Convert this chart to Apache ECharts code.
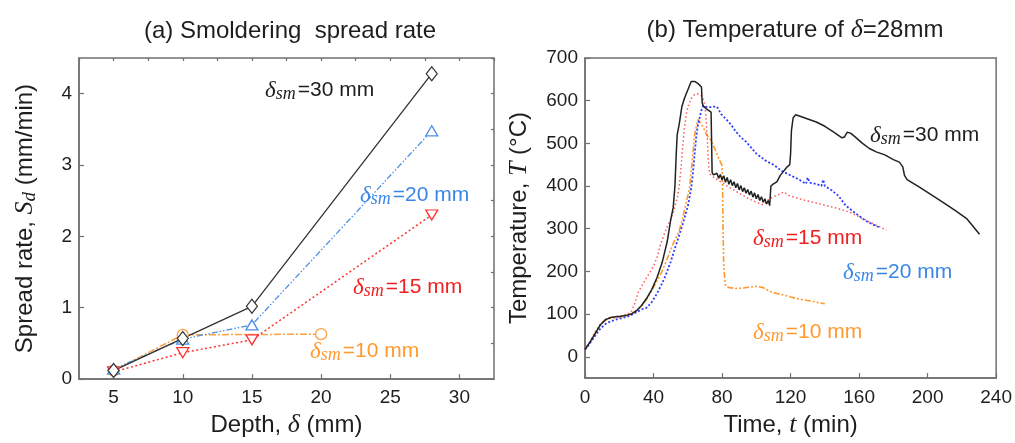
<!DOCTYPE html>
<html>
<head>
<meta charset="utf-8">
<script src="https://cdn.jsdelivr.net/npm/echarts@6/dist/echarts.min.js"></script>
<style>html,body{margin:0;padding:0;background:#fff;}#c{width:1015px;height:443px;}</style>
</head>
<body>
<div id="c"></div>
<script>
// ---------- (a) spread rate ----------
const depth30 = [5, 10, 15, 28];
const rate30  = [0.12, 0.57, 1.02, 4.28];
const depth20 = [5, 10, 15, 28];
const rate20  = [0.14, 0.56, 0.76, 3.48];
const depth15 = [5, 10, 15, 28];
const rate15  = [0.10, 0.37, 0.55, 2.30];
const depth10 = [5, 10, 20];
const rate10  = [0.12, 0.62, 0.63];
const leftXTicks = [5, 10, 15, 20, 25, 30];
const leftYTicks = [0, 1, 2, 3, 4];

// ---------- (b) temperature ----------
const time30 = [0,3,6,9,12,15,18,21,24,27,30,33,36,39,42,45,48,50,51.5,52.5,53.2,53.8,55,56.5,58,60,62,64,66,68,68.4,69,71,73.6,74.2,
  75,76,77,78,79,80,81,82,83,84,85,86,87,88,89,90,91,92,93,94,95,96,97,98,99,100,101,102,103,104,105,106,107,107.8,
  108,108.5,110,112,114,116,118,119.5,120,120.5,121.5,123,128,135,140,145,150,151.5,153,155,158,162,166,170,175,180,183.5,185.5,186.5,188,195,202,209,216,223,230.3];
const temp30 = [17,35,55,75,87,92,94,95,97,100,108,120,137,158,185,220,270,320,350,400,470,520,545,585,605,625,645,645,640,632,595,588,580,573,432,
  426,422,430,418,427,414,424,409,420,404,415,401,410,396,406,391,401,387,396,383,392,379,388,374,384,370,380,366,375,362,370,358,366,354,
  358,400,405,410,425,435,445,450,475,530,560,567,560,550,540,527,513,515,526,524,514,500,488,480,473,462,456,445,425,415,398,380,362,343,323,287];

const time15 = [0,3,6,9,12,15,18,21,24,27,29,31,34,37,40,42,44,46,48,50,52,54,55,56,57,58,59,60,62,64,66,68,69.5,70.5,71.5,72.3,73,76,80,85,90,95,100,104,107,110,113,116,119,125,133,140,148,155,160,165,170,176];
const temp15 = [17,37,58,77,88,92,94,96,98,105,125,150,172,192,212,232,262,285,305,322,345,375,400,440,490,535,565,585,605,615,616,611,600,570,500,440,428,418,408,395,383,372,362,356,368,375,380,386,378,370,362,355,347,338,328,318,308,297];

const time20 = [0,3,6,9,12,15,18,21,24,27,30,33,36,39,42,45,47,50,52,54.5,57,60,62,63,64,65,66,67,68,69,70,72,74,77,79.6,82,85,88,91,94,97,100,103,106,110,115,120,125,129,130,131,135,138,139,140,144,148,152,156,160,164,168,172];
const temp20 = [17,32,50,66,77,83,87,90,93,98,104,111,115,128,148,172,190,222,248,279,310,352,395,430,475,518,545,562,578,588,588,584,586,586,568,558,545,528,514,504,490,476,467,458,450,435,425,415,405,420,408,405,400,415,400,390,377,355,342,330,318,310,303];

const time10 = [0,3,6,9,12,15,18,21,24,27,30,33,36,39,42,45,48,52,55,57,59,61,62.5,64,65,66,67,69,71,73.8,76,78.6,80,80.3,80.6,81,82,84,88,92,96,100,104,108,112,116,120,125,130,135,140];
const temp10 = [17,36,56,75,86,90,92,94,96,100,107,118,135,155,178,200,230,270,295,325,360,395,455,520,540,556,553,538,520,505,485,460,448,400,300,210,167,162,160,161,163,165,162,153,148,145,140,135,132,128,124];
const rightXTicks = [0, 40, 80, 120, 160, 200, 240];
const rightYTicks = [0, 100, 200, 300, 400, 500, 600, 700];

const zip = (a, b) => a.map((v, i) => [v, b[i]]);

const FS = 'Liberation Sans, Arial, sans-serif';
const SERIF = 'Liberation Serif, DejaVu Serif, serif';
const AX = '#707070';
const TXT = '#1e1e1e';

const C30 = '#333333', C20L = '#4a8fe6', C15L = '#ff3030', C10L = '#ffa040';
const C20R = '#2b3cff', C15R = '#ff5a5a', C10R = '#ff9a2e';
const LBL20 = '#3a86e6', LBL15 = '#f02020', LBL10 = '#ff9a30';

function tag(color, num) {
  return {
    text: '{d|δ}{s|sm}{n|=' + num + ' mm}',
    rich: {
      d: { fontFamily: SERIF, fontStyle: 'italic', fontSize: 23, lineHeight: 26, fill: color },
      s: { fontFamily: SERIF, fontStyle: 'italic', fontSize: 18, lineHeight: 10, verticalAlign: 'bottom', padding: [0, 2, 0, 0], fill: color },
      n: { fontFamily: FS, fontSize: 21, lineHeight: 26, fill: color }
    }
  };
}

function majorAxis(extra) {
  return Object.assign({
    type: 'value',
    axisLine: { show: true, onZero: false, lineStyle: { color: AX, width: 1.5 } },
    axisTick: { show: true, inside: true, length: 5, lineStyle: { color: AX, width: 1.2 } },
    axisLabel: { color: TXT, fontSize: 19, fontFamily: FS },
    splitLine: { show: false },
    nameTextStyle: { color: TXT, fontSize: 24, fontFamily: FS }
  }, extra);
}
function minorAxis(extra) {
  return Object.assign({
    type: 'value',
    axisLine: { show: false, onZero: false },
    axisTick: { show: true, inside: true, length: 3, lineStyle: { color: AX, width: 1.2 } },
    axisLabel: { show: false },
    splitLine: { show: false }
  }, extra);
}

const chart = echarts.init(document.getElementById('c'), null, { renderer: 'canvas' });
chart.setOption({
  animation: false,
  backgroundColor: '#fff',
  title: [
    { text: '(a) Smoldering  spread rate', left: 285, top: 14, textAlign: 'center',
      textStyle: { fontFamily: FS, fontSize: 24, fontWeight: 'normal', color: TXT } },
    { text: '(b) Temperature of {i|δ}=28mm', left: 790, top: 12, textAlign: 'center',
      textStyle: { fontFamily: FS, fontSize: 24, fontWeight: 'normal', color: TXT,
        rich: { i: { fontFamily: SERIF, fontStyle: 'italic', fontSize: 26, color: TXT } } } }
  ],
  grid: [
    { left: 79, top: 58, width: 415, height: 333, show: true, borderColor: AX, borderWidth: 1.5, backgroundColor: 'transparent' },
    { left: 585, top: 58, width: 412, height: 330, show: true, borderColor: AX, borderWidth: 1.5, backgroundColor: 'transparent' }
  ],
  xAxis: [
    majorAxis({ gridIndex: 0, min: 2.5, max: 32.5,
      axisTick: { show: true, inside: true, length: 5, customValues: leftXTicks, lineStyle: { color: AX, width: 1.2 } },
      axisLabel: { color: TXT, fontSize: 19, fontFamily: FS, margin: 9, customValues: leftXTicks },
      name: 'Depth, {i|δ} (mm)', nameLocation: 'middle', nameGap: 28,
      nameTextStyle: { color: TXT, fontSize: 24, fontFamily: FS,
        rich: { i: { fontFamily: SERIF, fontStyle: 'italic', fontSize: 26, color: TXT } } } }),
    minorAxis({ gridIndex: 0, min: 2.5, max: 32.5, interval: 2.5 }),
    majorAxis({ gridIndex: 1, min: 0, max: 240, interval: 40,
      axisLabel: { color: TXT, fontSize: 19, fontFamily: FS, margin: 10, customValues: rightXTicks },
      name: 'Time, {i|t} (min)', nameLocation: 'middle', nameGap: 30,
      nameTextStyle: { color: TXT, fontSize: 24, fontFamily: FS,
        rich: { i: { fontFamily: SERIF, fontStyle: 'italic', fontSize: 26, color: TXT } } } })
  ],
  yAxis: [
    majorAxis({ gridIndex: 0, min: 0, max: 4.5,
      axisTick: { show: true, inside: true, length: 5, customValues: leftYTicks, lineStyle: { color: AX, width: 1.2 } },
      axisLabel: { color: TXT, fontSize: 19, fontFamily: FS, margin: 7, customValues: leftYTicks },
      name: 'Spread rate, {i|S}{sub|d} (mm/min)', nameLocation: 'middle', nameGap: 40,
      nameTextStyle: { color: TXT, fontSize: 24, fontFamily: FS,
        rich: {
          i: { fontFamily: SERIF, fontStyle: 'italic', fontSize: 26, lineHeight: 28, color: TXT },
          sub: { fontFamily: SERIF, fontStyle: 'italic', fontSize: 19, lineHeight: 14, verticalAlign: 'bottom', color: TXT }
        } } }),
    minorAxis({ gridIndex: 0, min: 0, max: 4.5, interval: 0.5 }),
    majorAxis({ gridIndex: 1, min: -50, max: 700,
      axisTick: { show: true, inside: true, length: 5, customValues: rightYTicks, lineStyle: { color: AX, width: 1.2 } },
      axisLabel: { color: TXT, fontSize: 19, fontFamily: FS, margin: 7, customValues: rightYTicks },
      name: 'Temperature, {i|T} (°C)', nameLocation: 'middle', nameGap: 53,
      nameTextStyle: { color: TXT, fontSize: 24, fontFamily: FS,
        rich: { i: { fontFamily: SERIF, fontStyle: 'italic', fontSize: 26, color: TXT } } } })
  ],
  series: [
    { type: 'line', xAxisIndex: 0, yAxisIndex: 0, data: zip(depth10, rate10), symbol: 'circle', symbolSize: 11,
      lineStyle: { color: C10L, width: 1.5, type: [7, 2, 2, 2] }, itemStyle: { color: '#fff', borderColor: C10L, borderWidth: 1.3 } },
    { type: 'line', xAxisIndex: 0, yAxisIndex: 0, data: zip(depth15, rate15), symbol: 'triangle', symbolRotate: 180, symbolSize: [12, 10],
      lineStyle: { color: C15L, width: 1.5, type: [2, 2.5] }, itemStyle: { color: '#fff', borderColor: C15L, borderWidth: 1.3 } },
    { type: 'line', xAxisIndex: 0, yAxisIndex: 0, data: zip(depth20, rate20), symbol: 'triangle', symbolSize: [12, 10],
      lineStyle: { color: C20L, width: 1.3, type: [6, 2, 1.5, 2, 1.5, 2] }, itemStyle: { color: '#fff', borderColor: C20L, borderWidth: 1.3 } },
    { type: 'line', xAxisIndex: 0, yAxisIndex: 0, data: zip(depth30, rate30), symbol: 'diamond', symbolSize: [11, 14],
      lineStyle: { color: C30, width: 1.3, type: 'solid' }, itemStyle: { color: '#fff', borderColor: C30, borderWidth: 1.2 } },

    { type: 'line', xAxisIndex: 2, yAxisIndex: 2, data: zip(time10, temp10), showSymbol: false,
      lineStyle: { color: C10R, width: 1.6, type: [6, 2, 2, 2, 2, 2] } },
    { type: 'line', xAxisIndex: 2, yAxisIndex: 2, data: zip(time15, temp15), showSymbol: false,
      lineStyle: { color: C15R, width: 1.5, type: [1.5, 2.5] } },
    { type: 'line', xAxisIndex: 2, yAxisIndex: 2, data: zip(time20, temp20), showSymbol: false,
      lineStyle: { color: C20R, width: 1.8, type: [2, 2] } },
    { type: 'line', xAxisIndex: 2, yAxisIndex: 2, data: zip(time30, temp30), showSymbol: false,
      lineStyle: { color: '#222', width: 1.5, type: 'solid' } }
  ],
  graphic: [
    { type: 'text', left: 265, top: 79, style: tag('#1e1e1e', 30) },
    { type: 'text', left: 360, top: 184, style: tag(LBL20, 20) },
    { type: 'text', left: 353, top: 276, style: tag(LBL15, 15) },
    { type: 'text', left: 310, top: 340, style: tag(LBL10, 10) },
    { type: 'text', left: 870, top: 124, style: tag('#1e1e1e', 30) },
    { type: 'text', left: 753, top: 227, style: tag(LBL15, 15) },
    { type: 'text', left: 843, top: 261, style: tag(LBL20, 20) },
    { type: 'text', left: 753, top: 321, style: tag(LBL10, 10) }
  ]
});
</script>
</body>
</html>
